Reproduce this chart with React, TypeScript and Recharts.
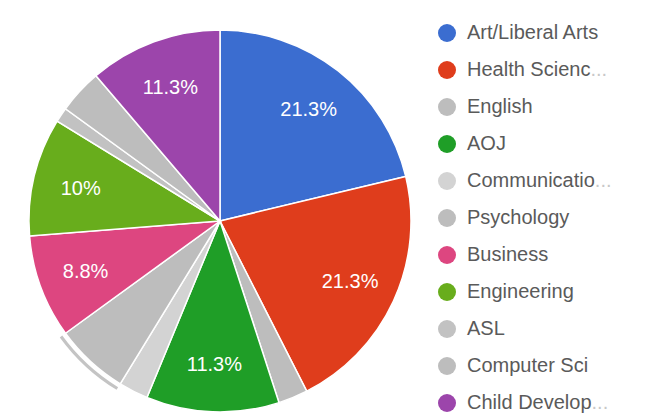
import React from 'react';
import { PieChart, Pie, Cell, Legend } from 'recharts';

// Majors, counts out of 80 responses
const majors = [
  'Art/Liberal Arts',
  'Health Sciences',
  'English',
  'AOJ',
  'Communications',
  'Psychology',
  'Business',
  'Engineering',
  'ASL',
  'Computer Sci',
  'Child Development',
];
// legend shows names cut short, the cut ones end in a faded ellipsis
const legendLabels = [
  'Art/Liberal Arts',
  'Health Scienc',
  'English',
  'AOJ',
  'Communicatio',
  'Psychology',
  'Business',
  'Engineering',
  'ASL',
  'Computer Sci',
  'Child Develop',
];
const truncated = [false, true, false, false, true, false, false, false, false, false, true];
const counts = [17, 17, 2, 9, 2, 5, 7, 8, 1, 3, 9];
const colors = [
  '#3b6dd0',
  '#df3d1c',
  '#bdbdbd',
  '#1f9e27',
  '#d3d3d3',
  '#bdbdbd',
  '#dd4680',
  '#68ad1c',
  '#c2c2c2',
  '#bdbdbd',
  '#9c45ab',
];
const hoveredIndex = 5;

const data = majors.map((name, i) => ({ name, value: counts[i] }));
const total = counts.reduce((a, b) => a + b, 0);

const RAD = Math.PI / 180;

const renderLabel = (props: any) => {
  const { cx, cy, midAngle, outerRadius, value } = props;
  if (value / total < 0.08) return null;
  const r = outerRadius * 0.75;
  const x = cx + r * Math.cos(-midAngle * RAD);
  const y = cy + r * Math.sin(-midAngle * RAD);
  const pct = Math.round((value * 1000) / total) / 10;
  return (
    <text
      x={x}
      y={y}
      fill="#fff"
      fontSize={20}
      fontFamily="'Liberation Sans', Arial, sans-serif"
      textAnchor="middle"
      dominantBaseline="central"
    >
      {pct}%
    </text>
  );
};

const LegendList = () => (
  <div style={{ fontFamily: "'Liberation Sans', Arial, sans-serif" }}>
    {legendLabels.map((label, i) => (
      <div key={label} style={{ display: 'flex', alignItems: 'center', height: 37 }}>
        <svg width={20} height={20} style={{ marginRight: 10 }}>
          <circle cx={10} cy={10} r={9} fill={colors[i]} />
        </svg>
        <span style={{ fontSize: 20, color: '#5a5a5a', whiteSpace: 'nowrap' }}>
          {label}
          {truncated[i] && <span style={{ color: '#c8c8c8' }}>...</span>}
        </span>
      </div>
    ))}
  </div>
);

export default function App() {
  return (
    <div style={{ position: 'absolute', left: 0, top: 0, width: 655, height: 417, background: '#fff', overflow: 'hidden' }}>
      <PieChart width={655} height={417} margin={{ top: 0, right: 0, bottom: 0, left: 0 }}>
        <Pie
          data={data}
          dataKey="value"
          nameKey="name"
          cx={220}
          cy={221}
          outerRadius={191}
          startAngle={90}
          endAngle={-270}
          stroke="#fff"
          strokeWidth={1.5}
          label={renderLabel}
          labelLine={false}
          isAnimationActive={false}
        >
          {data.map((d, i) => (
            <Cell key={d.name} fill={colors[i]} />
          ))}
        </Pie>
        {/* hover ring around one slice */}
        <Pie
          data={data}
          dataKey="value"
          cx={220}
          cy={221}
          innerRadius={195}
          outerRadius={198}
          startAngle={90}
          endAngle={-270}
          stroke="none"
          legendType="none"
          isAnimationActive={false}
        >
          {data.map((d, i) => (
            <Cell key={d.name} fill={i === hoveredIndex ? '#c4c4c4' : 'transparent'} />
          ))}
        </Pie>
        <Legend
          layout="vertical"
          content={() => <LegendList />}
          wrapperStyle={{ position: 'absolute', left: 437, top: 14, width: 210 }}
        />
      </PieChart>
    </div>
  );
}
